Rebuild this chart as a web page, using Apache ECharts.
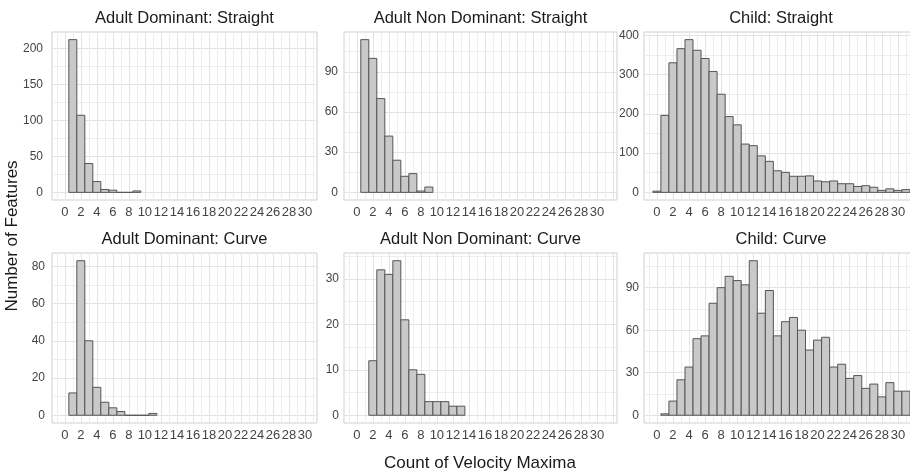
<!DOCTYPE html>
<html>
<head>
<meta charset="utf-8">
<script src="https://cdn.jsdelivr.net/npm/echarts@6/dist/echarts.min.js"></script>
<style>
  html, body { margin: 0; padding: 0; background: #fff; }
  #chart { width: 910px; height: 473px; }
</style>
</head>
<body>
<div id="chart"></div>
<script>
// Facet titles
var panelTitles = [
    'Adult Dominant: Straight', 'Adult Non Dominant: Straight', 'Child: Straight',
    'Adult Dominant: Curve', 'Adult Non Dominant: Curve', 'Child: Curve'
];

// Histogram counts, one per integer bin (bin width 1), first bin in firstBins
var adultDomStraight = [212, 107, 40, 15, 4, 3, 0, 0, 2];
var adultNonDomStraight = [114, 100, 70, 42, 24, 12, 14, 1, 4];
var childStraight = [3, 196, 330, 366, 389, 362, 341, 308, 250, 193, 172, 123, 119, 93, 79, 55,
                     51, 41, 41, 42, 29, 27, 29, 22, 22, 15, 17, 13, 5, 9, 5, 7];
var adultDomCurve = [12, 83, 40, 15, 7, 4, 2, 0, 0, 0, 1];
var adultNonDomCurve = [12, 32, 31, 34, 21, 10, 9, 3, 3, 3, 2, 2];
var childCurve = [1, 10, 25, 34, 54, 56, 79, 90, 98, 95, 92, 109, 72, 88, 56, 66, 69, 60, 46,
                  53, 55, 34, 36, 26, 28, 19, 22, 13, 23, 17, 17];
var firstBins = [1, 1, 0, 1, 2, 1];

// Axis breaks
var yBreakSteps = [50, 30, 100, 20, 10, 30];
var xBreakStep = 2;
var xBreakLast = 30;

var xAxisTitle = 'Count of Velocity Maxima';
var yAxisTitle = 'Number of Features';

var panelData = [adultDomStraight, adultNonDomStraight, childStraight,
                 adultDomCurve, adultNonDomCurve, childCurve];

var FONT = "'Liberation Sans', Arial, Helvetica, sans-serif";

// Panel layout (px)
var colLeft = [52, 344, 644];
var colWidth = [265, 273, 274];
var rowTop = [32, 253];
var rowHeight = [168, 170];
var xMinAll = -1.6;
var xMaxByCol = [31.5, 32.5, 32.5];
var yLabelGap = [9, 6, 5, 7, 5, 5];

function binPairs(counts, first) {
    return counts.map(function (c, k) { return [first + k, c]; });
}

// One histogram bar per bin, drawn through the axis scales
function renderBin(params, api) {
    var x = api.value(0);
    var y = api.value(1);
    var p0 = api.coord([x - 0.5, y]);
    var p1 = api.coord([x + 0.5, 0]);
    return {
        type: 'rect',
        shape: { x: p0[0], y: p0[1], width: p1[0] - p0[0], height: p1[1] - p0[1] },
        style: { fill: '#c9c9c9', stroke: '#555555', lineWidth: 1 }
    };
}

var chart = echarts.init(document.getElementById('chart'));

var grids = [], xAxes = [], yAxes = [], series = [], titles = [];

for (var i = 0; i < 6; i++) {
    var col = i % 3;
    var row = Math.floor(i / 3);
    var counts = panelData[i];
    var peak = Math.max.apply(null, counts);
    var yStep = yBreakSteps[i];

    grids.push({
        left: colLeft[col],
        top: rowTop[row],
        width: colWidth[col],
        height: rowHeight[row],
        show: true,
        backgroundColor: '#ffffff',
        borderColor: '#cfcfcf',
        borderWidth: 1,
        containLabel: false,
        outerBoundsMode: 'none'
    });

    titles.push({
        text: panelTitles[i],
        left: colLeft[col] + colWidth[col] / 2,
        top: row === 0 ? 10 : 231,
        textAlign: 'center',
        padding: 0,
        textStyle: { fontFamily: FONT, fontSize: 16.5, fontWeight: 'normal', color: '#1a1a1a' }
    });

    xAxes.push({
        gridIndex: i,
        type: 'value',
        min: xMinAll,
        max: xMaxByCol[col],
        minInterval: xBreakStep,
        maxInterval: xBreakStep,
        axisLine: { show: false },
        axisTick: { show: false },
        axisLabel: {
            margin: 6,
            fontFamily: FONT,
            fontSize: 13,
            color: '#444444',
            formatter: function (v) {
                var r = Math.round(v);
                return (Math.abs(v - r) < 1e-6 && r >= 0 && r <= xBreakLast && r % xBreakStep === 0) ? String(r) : '';
            }
        },
        splitLine: { show: true, showMinLine: false, showMaxLine: false, lineStyle: { color: '#e3e3e3', width: 1 } },
        minorTick: { show: false, splitNumber: 2 },
        minorSplitLine: { show: true, lineStyle: { color: '#eeeeee', width: 1 } }
    });

    yAxes.push({
        gridIndex: i,
        type: 'value',
        min: -0.05 * peak,
        max: 1.05 * peak,
        minInterval: yStep,
        maxInterval: yStep,
        axisLine: { show: false },
        axisTick: { show: false },
        axisLabel: {
            margin: yLabelGap[i],
            fontFamily: FONT,
            fontSize: 12,
            color: '#444444',
            formatter: (function (step) {
                return function (v) {
                    var r = Math.round(v / step) * step;
                    return (Math.abs(v - r) < 1e-6 && r >= 0) ? String(r) : '';
                };
            })(yStep)
        },
        splitLine: { show: true, showMinLine: false, showMaxLine: false, lineStyle: { color: '#e3e3e3', width: 1 } },
        minorTick: { show: false, splitNumber: 2 },
        minorSplitLine: { show: true, lineStyle: { color: '#eeeeee', width: 1 } }
    });

    series.push({
        type: 'custom',
        name: panelTitles[i],
        xAxisIndex: i,
        yAxisIndex: i,
        clip: true,
        silent: true,
        data: binPairs(counts, firstBins[i]),
        renderItem: renderBin
    });
}

chart.setOption({
    animation: false,
    backgroundColor: '#ffffff',
    textStyle: { fontFamily: FONT },
    title: titles,
    grid: grids,
    xAxis: xAxes,
    yAxis: yAxes,
    series: series,
    graphic: [
        {
            type: 'text',
            x: 12,
            y: 236,
            rotation: Math.PI / 2,
            style: {
                text: yAxisTitle,
                font: "17px 'Liberation Sans', Arial, sans-serif",
                fill: '#1a1a1a',
                align: 'center', verticalAlign: 'middle',
                textAlign: 'center', textVerticalAlign: 'middle'
            }
        },
        {
            type: 'text',
            x: 480,
            y: 463,
            style: {
                text: xAxisTitle,
                font: "17px 'Liberation Sans', Arial, sans-serif",
                fill: '#1a1a1a',
                align: 'center', verticalAlign: 'middle',
                textAlign: 'center', textVerticalAlign: 'middle'
            }
        }
    ]
});

window.addEventListener('resize', function () { chart.resize(); });
</script>
</body>
</html>
